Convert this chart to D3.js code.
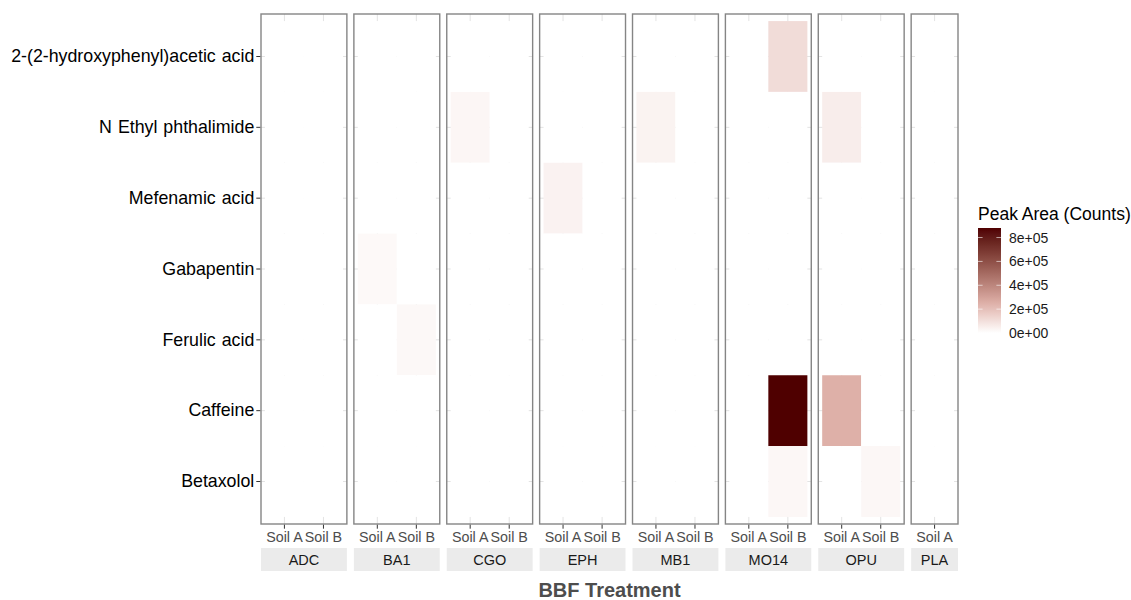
<!DOCTYPE html>
<html>
<head>
<meta charset="utf-8">
<script src="https://cdn.jsdelivr.net/npm/d3@7"></script>
<style>
  html, body { margin: 0; padding: 0; background: #ffffff; }
  svg { display: block; font-family: "Liberation Sans", Arial, Helvetica, sans-serif; }
</style>
</head>
<body>
<svg id="chart" width="1131" height="600"></svg>
<script>
// ---------------- DATA ----------------
const compounds = [
  "2-(2-hydroxyphenyl)acetic acid",
  "N Ethyl phthalimide",
  "Mefenamic acid",
  "Gabapentin",
  "Ferulic acid",
  "Caffeine",
  "Betaxolol"
];
const treatments = ["ADC", "BA1", "CGO", "EPH", "MB1", "MO14", "OPU", "PLA"];
const soilsPerTreatment = [
  ["Soil A", "Soil B"], ["Soil A", "Soil B"], ["Soil A", "Soil B"], ["Soil A", "Soil B"],
  ["Soil A", "Soil B"], ["Soil A", "Soil B"], ["Soil A", "Soil B"], ["Soil A"]
];
// Peak area per treatment, values in compound order (top to bottom)
const soilAValues = [
  [0, 0, 0, 0, 0, 0, 0],              // ADC
  [0, 0, 0, 20000, 0, 0, 0],          // BA1
  [0, 28000, 0, 0, 0, 0, 0],          // CGO
  [0, 0, 40000, 0, 0, 0, 0],          // EPH
  [0, 38000, 0, 0, 0, 0, 0],          // MB1
  [0, 0, 0, 0, 0, 0, 0],              // MO14
  [0, 55000, 0, 0, 0, 250000, 0],     // OPU
  [0, 0, 0, 0, 0, 0, 0]               // PLA
];
const soilBValues = [
  [0, 0, 0, 0, 0, 0, 0],              // ADC
  [0, 0, 0, 0, 22000, 0, 0],          // BA1
  [0, 0, 0, 0, 0, 0, 0],              // CGO
  [0, 0, 0, 0, 0, 0, 0],              // EPH
  [0, 0, 0, 0, 0, 0, 0],              // MB1
  [110000, 0, 0, 0, 0, 880000, 24000],// MO14
  [0, 0, 0, 0, 0, 0, 26000],          // OPU
  null                                // PLA (no Soil B)
];
const legendTicks = [0, 200000, 400000, 600000, 800000];
const legendTickLabels = ["0e+00", "2e+05", "4e+05", "6e+05", "8e+05"];

// colour ramp stops (low -> mid -> high)
const rampColours = ["#ffffff", "#deb0a8", "#4f0000"];
const rampMidValue = 250000;

// ---------------- LAYOUT ----------------
const svg = d3.select("#chart");
const plotLeft = 261, plotRight = 958, plotTop = 14, plotBottom = 524;
const gap = 7;
const totalUnits = d3.sum(soilsPerTreatment, s => s.length + 0.2);
const unit = (plotRight - plotLeft - gap * (treatments.length - 1)) / totalUnits;

const cells = [];
treatments.forEach((t, ti) => {
  soilsPerTreatment[ti].forEach(s => {
    const arr = s === "Soil A" ? soilAValues[ti] : soilBValues[ti];
    compounds.forEach((c, ci) => cells.push({ treatment: t, soil: s, compound: c, value: arr[ci] }));
  });
});
const maxVal = d3.max(cells, d => d.value);
const minVal = d3.min(cells, d => d.value);

const color = d3.scaleLinear()
  .domain([minVal, rampMidValue, maxVal])
  .range(rampColours)
  .interpolate(d3.interpolateLab);

const y = d3.scaleBand()
  .domain(compounds)
  .range([plotTop, plotBottom])
  .paddingInner(0)
  .paddingOuter(0.1);

// panels
let xCursor = plotLeft;
const panels = treatments.map((t, ti) => {
  const w = (soilsPerTreatment[ti].length + 0.2) * unit;
  const x = d3.scaleBand()
    .domain(soilsPerTreatment[ti])
    .range([xCursor, xCursor + w])
    .paddingInner(0)
    .paddingOuter(0.1);
  const p = { treatment: t, x0: xCursor, w, x };
  xCursor += w + gap;
  return p;
});

panels.forEach(p => {
  const g = svg.append("g");
  g.append("rect")
    .attr("x", p.x0).attr("y", plotTop)
    .attr("width", p.w).attr("height", plotBottom - plotTop)
    .attr("fill", "#ffffff");
  // grid lines
  g.selectAll("line.gv").data(p.x.domain()).join("line")
    .attr("x1", d => p.x(d) + p.x.bandwidth() / 2)
    .attr("x2", d => p.x(d) + p.x.bandwidth() / 2)
    .attr("y1", plotTop).attr("y2", plotBottom)
    .attr("stroke", "#e3e3e3").attr("stroke-width", 1);
  g.selectAll("line.gh").data(compounds).join("line")
    .attr("x1", p.x0).attr("x2", p.x0 + p.w)
    .attr("y1", d => y(d) + y.bandwidth() / 2)
    .attr("y2", d => y(d) + y.bandwidth() / 2)
    .attr("stroke", "#e3e3e3").attr("stroke-width", 1);
  // tiles
  g.selectAll("rect.tile").data(cells.filter(c => c.treatment === p.treatment)).join("rect")
    .attr("x", d => p.x(d.soil))
    .attr("y", d => y(d.compound))
    .attr("width", p.x.bandwidth())
    .attr("height", y.bandwidth())
    .attr("fill", d => color(d.value));
  // border
  g.append("rect")
    .attr("x", p.x0).attr("y", plotTop)
    .attr("width", p.w).attr("height", plotBottom - plotTop)
    .attr("fill", "none").attr("stroke", "#858585").attr("stroke-width", 1.4);
  // x axis
  const ax = svg.append("g")
    .attr("transform", `translate(0,${plotBottom + 0.7})`)
    .call(d3.axisBottom(p.x).tickSize(4).tickPadding(3));
  ax.select(".domain").remove();
  ax.selectAll(".tick line").attr("stroke", "#333333").attr("stroke-width", 1);
  ax.selectAll(".tick text")
    .attr("fill", "#4d4d4d").attr("font-size", "14.3px")
    .attr("font-family", "'Liberation Sans', Arial, sans-serif");
  // strip
  svg.append("rect")
    .attr("x", p.x0).attr("y", 548)
    .attr("width", p.w).attr("height", 23)
    .attr("fill", "#ebebeb");
  svg.append("text")
    .attr("x", p.x0 + p.w / 2).attr("y", 559.5)
    .attr("dy", "0.36em")
    .attr("text-anchor", "middle")
    .attr("font-size", "14.5px").attr("fill", "#1a1a1a")
    .text(p.treatment);
});

// y axis
const ay = svg.append("g")
  .attr("transform", `translate(${plotLeft - 0.7},0)`)
  .call(d3.axisLeft(y).tickSize(4).tickPadding(2));
ay.select(".domain").remove();
ay.selectAll(".tick line").attr("stroke", "#333333").attr("stroke-width", 1);
ay.selectAll(".tick text")
  .attr("fill", "#000000").attr("font-size", "17.8px")
  .attr("font-family", "'Liberation Sans', Arial, sans-serif")
  .attr("word-spacing", "1px");

// x title
svg.append("text")
  .attr("x", (plotLeft + plotRight) / 2).attr("y", 597)
  .attr("text-anchor", "middle")
  .attr("font-size", "20px").attr("font-weight", "bold")
  .attr("fill", "#4d4d4d")
  .text("BBF Treatment");

// ---------------- LEGEND ----------------
const barX = 978, barW = 23, barTop = 228, barBottom = 333;
const ly = d3.scaleLinear().domain([minVal, maxVal]).range([barBottom, barTop]);
const defs = svg.append("defs");
const grad = defs.append("linearGradient")
  .attr("id", "legendGrad")
  .attr("x1", "0").attr("y1", "1").attr("x2", "0").attr("y2", "0");
d3.range(0, 1.0001, 0.025).forEach(t => {
  grad.append("stop")
    .attr("offset", t)
    .attr("stop-color", color(minVal + t * (maxVal - minVal)));
});
svg.append("rect")
  .attr("x", barX).attr("y", barTop)
  .attr("width", barW).attr("height", barBottom - barTop)
  .attr("fill", "url(#legendGrad)");
const lt = svg.append("g");
legendTicks.forEach((v, i) => {
  lt.append("line")
    .attr("x1", barX).attr("x2", barX + barW * 0.2)
    .attr("y1", ly(v)).attr("y2", ly(v))
    .attr("stroke", "#ffffff").attr("stroke-width", 1).attr("stroke-opacity", 0.6);
  lt.append("line")
    .attr("x1", barX + barW * 0.8).attr("x2", barX + barW)
    .attr("y1", ly(v)).attr("y2", ly(v))
    .attr("stroke", "#ffffff").attr("stroke-width", 1).attr("stroke-opacity", 0.6);
  lt.append("text")
    .attr("x", 1009).attr("y", ly(v))
    .attr("dy", "0.36em")
    .attr("font-size", "14px").attr("fill", "#1a1a1a")
    .text(legendTickLabels[i]);
});
svg.append("text")
  .attr("x", 978).attr("y", 220)
  .attr("font-size", "17.5px").attr("fill", "#000000")
  .text("Peak Area (Counts)");
</script>
</body>
</html>
